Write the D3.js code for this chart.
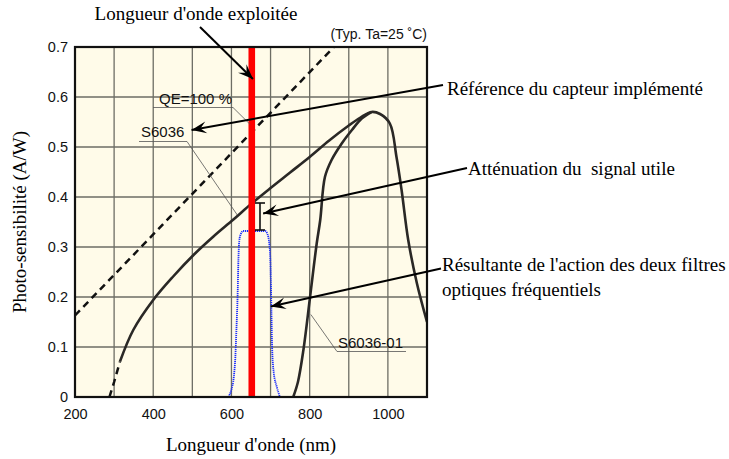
<!DOCTYPE html>
<html><head><meta charset="utf-8">
<script src="https://cdn.jsdelivr.net/npm/d3@7"></script>
<style>body{margin:0;background:#fff}svg{display:block}</style>
</head><body>
<script>
// ---- data ----
const xTicks = [200, 400, 600, 800, 1000];
const yTicks = [0, 0.1, 0.2, 0.3, 0.4, 0.5, 0.6, 0.7];
const xGrid = [300, 400, 500, 600, 700, 800, 900, 1000];
const qeWl = [200, 862];
const qeVal = [0.163, 0.7];
const s6036DashWl = [288, 300, 315];
const s6036DashVal = [0, 0.03, 0.071];
const s6036Wl = [315, 349, 400, 451, 503, 554, 605, 650, 700, 750, 800, 850, 900, 930, 958, 980, 1005, 1022, 1035, 1052, 1074, 1100];
const s6036Val = [0.071, 0.134, 0.194, 0.241, 0.284, 0.321, 0.355, 0.386, 0.418, 0.449, 0.48, 0.513, 0.543, 0.559, 0.57, 0.566, 0.547, 0.48, 0.414, 0.314, 0.228, 0.15];
const s601Wl = [758, 770, 784, 801, 818, 827, 839, 856, 882, 908, 933, 958];
const s601Val = [0.0, 0.03, 0.094, 0.2, 0.307, 0.354, 0.44, 0.474, 0.507, 0.534, 0.557, 0.57];
const filtWl = [592, 600, 606, 610, 613, 616, 618, 620, 624, 630, 660, 686, 692, 697, 700, 702, 704, 708, 716, 724];
const filtVal = [0, 0.015, 0.04, 0.08, 0.14, 0.21, 0.28, 0.312, 0.326, 0.332, 0.332, 0.332, 0.326, 0.305, 0.26, 0.18, 0.1, 0.05, 0.02, 0];
const laserWl = 652;
const attenWl = 673, attenTop = 0.388, attenBot = 0.334;

const W = 729, H = 459;
const m = {l: 75, r: 302, t: 47, b: 62};
const svg = d3.select("body").append("svg").attr("width", W).attr("height", H);
const x = d3.scaleLinear().domain([200, 1100]).range([m.l, W - m.r]);
const y = d3.scaleLinear().domain([0, 0.7]).range([H - m.b, m.t]);
const sans = "'Liberation Sans', Arial, sans-serif";
const serif = "'Liberation Serif', 'Times New Roman', serif";

// plot background
svg.append("rect").attr("x", x(200)).attr("y", y(0.7)).attr("width", x(1100) - x(200)).attr("height", y(0) - y(0.7)).attr("fill", "#fffbe9");
// grid
svg.append("g").selectAll("line").data(xGrid).join("line")
  .attr("x1", d => x(d)).attr("x2", d => x(d)).attr("y1", y(0)).attr("y2", y(0.7))
  .attr("stroke", "#6d6d64").attr("stroke-width", 1.3);
svg.append("g").selectAll("line").data(yTicks.slice(1, -1)).join("line")
  .attr("y1", d => y(d)).attr("y2", d => y(d)).attr("x1", x(200)).attr("x2", x(1100))
  .attr("stroke", "#6d6d64").attr("stroke-width", 1.3);

// axes labels
const xa = svg.append("g").attr("transform", `translate(0,${y(0)})`)
  .call(d3.axisBottom(x).tickValues(xTicks).tickSize(0).tickPadding(12).tickFormat(d3.format("d")));
xa.select(".domain").remove();
xa.selectAll("text").attr("font-family", sans).attr("font-size", 14.5).attr("fill", "#111");
const ya = svg.append("g").attr("transform", `translate(${x(200)},0)`)
  .call(d3.axisLeft(y).tickValues(yTicks).tickSize(0).tickPadding(7).tickFormat(d => d === 0 ? "0" : d3.format(".1f")(d)));
ya.select(".domain").remove();
ya.selectAll("text").attr("font-family", sans).attr("font-size", 14.5).attr("fill", "#111");

const line = d3.line().x(d => x(d[0])).y(d => y(d[1]));
const zip = (a, b) => a.map((v, i) => [v, b[i]]);

svg.append("clipPath").attr("id", "pc").append("rect")
  .attr("x", x(200)).attr("y", y(0.7)).attr("width", x(1100) - x(200)).attr("height", y(0) - y(0.7));
const plot = svg.append("g").attr("clip-path", "url(#pc)");

// QE dashed
plot.append("path").attr("d", line(zip(qeWl, qeVal))).attr("fill", "none")
  .attr("stroke", "#111").attr("stroke-width", 2.5).attr("stroke-dasharray", "7,5");
// S6036 dashed start
plot.append("path").attr("d", line(zip(s6036DashWl, s6036DashVal))).attr("fill", "none")
  .attr("stroke", "#111").attr("stroke-width", 2.5).attr("stroke-dasharray", "7,5");
// S6036 and S6036-01
const smooth = d3.line().x(d => x(d[0])).y(d => y(d[1])).curve(d3.curveCatmullRom.alpha(0.5));
plot.append("path").attr("d", smooth(zip(s6036Wl, s6036Val))).attr("fill", "none")
  .attr("stroke", "#2a2826").attr("stroke-width", 2.6);
plot.append("path").attr("d", smooth(zip(s601Wl, s601Val))).attr("fill", "none")
  .attr("stroke", "#2a2826").attr("stroke-width", 2.6);
// filter result (blue dotted)
const mono = d3.line().x(d => x(d[0])).y(d => y(d[1])).curve(d3.curveMonotoneX);
plot.append("path").attr("d", mono(zip(filtWl, filtVal))).attr("fill", "none")
  .attr("stroke", "#1a2cff").attr("stroke-width", 1.8).attr("stroke-dasharray", "1.2,0.8");

// red laser line
svg.append("rect").attr("x", x(laserWl) - 3.3).attr("y", y(0.7)).attr("width", 6.6).attr("height", y(0.002) - y(0.7)).attr("fill", "#ff0000");

// attenuation I marker
const ai = svg.append("g").attr("stroke", "#111").attr("stroke-width", 1.6);
ai.append("line").attr("x1", x(attenWl)).attr("x2", x(attenWl)).attr("y1", y(attenTop)).attr("y2", y(attenBot));
ai.append("line").attr("x1", x(attenWl) - 5).attr("x2", x(attenWl) + 5).attr("y1", y(attenTop)).attr("y2", y(attenTop));
ai.append("line").attr("x1", x(attenWl) - 5).attr("x2", x(attenWl) + 5).attr("y1", y(attenBot)).attr("y2", y(attenBot));

// plot border
svg.append("rect").attr("x", x(200)).attr("y", y(0.7)).attr("width", x(1100) - x(200)).attr("height", y(0) - y(0.7))
  .attr("fill", "none").attr("stroke", "#111").attr("stroke-width", 2.2);

// labels with leader lines
function leader(pts, w) {
  svg.append("path").attr("d", d3.line()(pts)).attr("fill", "none").attr("stroke", "#555").attr("stroke-width", w || 0.8);
}
svg.append("text").attr("x", 159).attr("y", 104).attr("font-family", sans).attr("font-size", 15).attr("fill", "#111").text("QE=100 %");
leader([[153, 107.5], [233, 107.5], [x(648), y(0.545)]]);
svg.append("text").attr("x", 141).attr("y", 137).attr("font-family", sans).attr("font-size", 15).attr("fill", "#111").text("S6036");
leader([[139, 141.5], [187, 141.5], [x(615), y(0.364)]]);
svg.append("text").attr("x", 338).attr("y", 348).attr("font-family", sans).attr("font-size", 15).attr("fill", "#111").text("S6036-01");
leader([[406, 351.5], [337, 351.5], [x(803), y(0.165)]]);
svg.append("text").attr("x", 427).attr("y", 39).attr("text-anchor", "end").attr("font-family", sans).attr("font-size", 14).attr("fill", "#111").text("(Typ. Ta=25 ˚C)");

// arrows
function arrow(x1, y1, x2, y2) {
  svg.append("line").attr("x1", x1).attr("y1", y1).attr("x2", x2).attr("y2", y2).attr("stroke", "#000").attr("stroke-width", 2);
  const a = Math.atan2(y2 - y1, x2 - x1), L = 15, Wd = 6, n = 9;
  const bx = x2 - L * Math.cos(a), by = y2 - L * Math.sin(a);
  const nx = x2 - n * Math.cos(a), ny = y2 - n * Math.sin(a);
  const px = -Math.sin(a), py = Math.cos(a);
  svg.append("path").attr("d", `M${x2},${y2}L${bx + px * Wd},${by + py * Wd}L${nx},${ny}L${bx - px * Wd},${by - py * Wd}Z`).attr("fill", "#000");
}
arrow(200, 27, x(655), y(0.636));
arrow(443, 85, x(498), y(0.534));
arrow(467, 168, x(681), y(0.367));
arrow(441, 268.5, x(700.5), y(0.181));

// annotation texts (serif)
const ann = (tx, ty, s, anchor) => svg.append("text").attr("x", tx).attr("y", ty).attr("text-anchor", anchor || "start")
  .attr("font-family", serif).attr("font-size", 19).attr("fill", "#000").text(s);
ann(196, 20, "Longueur d'onde exploitée", "middle");
ann(447, 95, "Référence du capteur implémenté");
ann(468, 175, "Atténuation du \u00a0signal utile");
ann(442, 271, "Résultante de l'action des deux filtres");
ann(442, 296, "optiques fréquentiels");

// axis titles
svg.append("text").attr("x", x(650)).attr("y", 451).attr("text-anchor", "middle").attr("font-family", serif).attr("font-size", 19).text("Longueur d'onde (nm)");
svg.append("text").attr("transform", `translate(26,${y(0.35)}) rotate(-90)`).attr("text-anchor", "middle").attr("font-family", serif).attr("font-size", 19).text("Photo-sensibilité (A/W)");
</script>
</body></html>
